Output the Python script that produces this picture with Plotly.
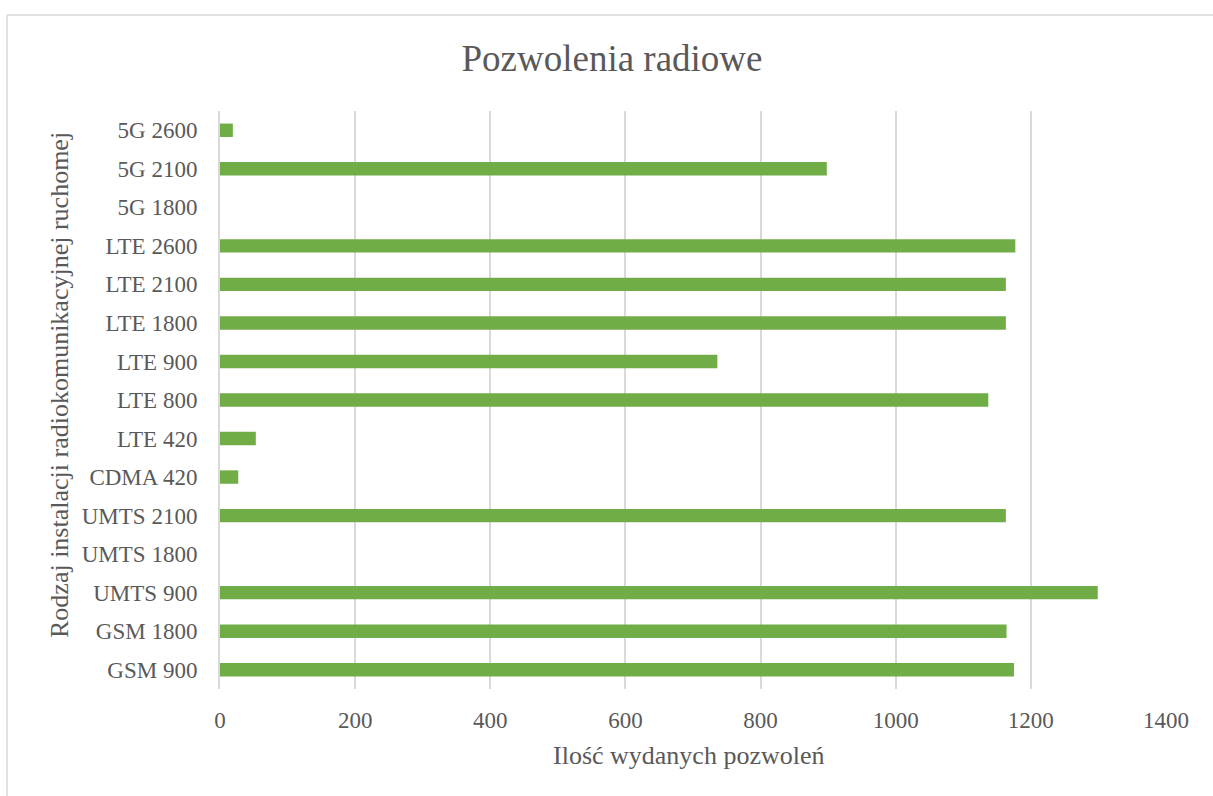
import plotly.graph_objects as go

# Radio permits per mobile radiocommunication installation type
categories = [
    "GSM 900", "GSM 1800", "UMTS 900", "UMTS 1800", "UMTS 2100",
    "CDMA 420", "LTE 420", "LTE 800", "LTE 900", "LTE 1800",
    "LTE 2100", "LTE 2600", "5G 1800", "5G 2100", "5G 2600",
]
permits = [1175, 1164, 1299, 0, 1163, 27, 53, 1137, 736, 1163, 1163, 1177, 0, 898, 19]
x_ticks = [0, 200, 400, 600, 800, 1000, 1200, 1400]

W, H = 1213, 796
ML, MR, MT, MB = 220, 47, 111, 107
TEXT = "#595959"
GRID = "#d9d9d9"
FONT = "Liberation Serif, Times New Roman, serif"

fig = go.Figure(
    go.Bar(
        x=permits,
        y=categories,
        orientation="h",
        marker=dict(color="#70AD47", line=dict(width=0)),
        hoverinfo="x+y",
    )
)

pw = W - ML - MR
ph = H - MT - MB


def px_x(p):
    return (p - ML) / pw


def px_y(p):
    return (H - MB - p) / ph


fig.update_layout(
    width=W,
    height=H,
    margin=dict(l=ML, r=MR, t=MT, b=MB, pad=0),
    paper_bgcolor="white",
    plot_bgcolor="white",
    bargap=0.652,
    showlegend=False,
    font=dict(family=FONT, color=TEXT, size=23),
    title=dict(
        text="Pozwolenia radiowe",
        x=612 / W,
        xanchor="center",
        y=1 - 58 / H,
        yanchor="middle",
        font=dict(family=FONT, size=37, color=TEXT),
    ),
    xaxis=dict(
        range=[0, 1400],
        tickvals=x_ticks,
        ticktext=[str(v) for v in x_ticks],
        showgrid=True,
        gridcolor=GRID,
        gridwidth=2,
        zeroline=False,
        showline=False,
        ticks="",
        ticklabelstandoff=15,
        tickfont=dict(family=FONT, size=23, color=TEXT),
        fixedrange=True,
    ),
    yaxis=dict(
        categoryorder="array",
        categoryarray=categories,
        showgrid=False,
        zeroline=False,
        showline=True,
        linecolor=GRID,
        linewidth=2,
        ticks="",
        ticklabelstandoff=16,
        tickfont=dict(family=FONT, size=23, color=TEXT),
        fixedrange=True,
    ),
    annotations=[
        dict(
            text="Ilość wydanych pozwoleń",
            xref="paper", yref="paper",
            x=px_x(688), y=px_y(755),
            xanchor="center", yanchor="middle",
            showarrow=False,
            font=dict(family=FONT, size=26, color=TEXT),
        ),
        dict(
            text="Rodzaj instalacji radiokomunikacyjnej ruchomej",
            xref="paper", yref="paper",
            x=px_x(59), y=px_y(385),
            xanchor="center", yanchor="middle",
            textangle=-90,
            showarrow=False,
            font=dict(family=FONT, size=26, color=TEXT),
        ),
    ],
    shapes=[
        dict(type="line", xref="paper", yref="paper",
             x0=px_x(7), x1=px_x(1215), y0=px_y(15), y1=px_y(15),
             line=dict(color=GRID, width=1.5)),
        dict(type="line", xref="paper", yref="paper",
             x0=px_x(7), x1=px_x(7), y0=px_y(15), y1=px_y(800),
             line=dict(color=GRID, width=1.5)),
    ],
)

fig.write_html("out.html", config={"displayModeBar": False})
